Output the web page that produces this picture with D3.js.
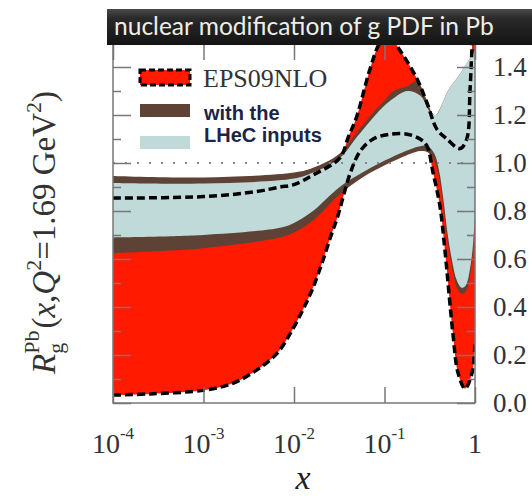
<!DOCTYPE html>
<html>
<head>
<meta charset="utf-8">
<script src="https://cdn.jsdelivr.net/npm/d3@7"></script>
<style>
  html, body { margin: 0; padding: 0; background: #fff; }
  svg { display: block; }
</style>
</head>
<body>
<svg id="chart" width="532" height="496"></svg>
<script>
// ---------------- data (x, R) ----------------
const eps09Upper = [[1e-4,0.854],[1e-3,0.86],[0.0037,0.88],[0.007,0.90],[0.01,0.91],[0.0162,0.95],[0.032,1.02],[0.04,1.11],[0.049,1.19],[0.069,1.39],[0.089,1.50],[0.112,1.53],[0.148,1.47],[0.229,1.35],[0.295,1.25],[0.38,1.14],[0.49,1.10],[0.68,1.06],[0.81,1.10],[0.88,1.30],[0.933,1.51],[1,1.75]];
const eps09Lower = [[1e-4,0.033],[2.57e-4,0.038],[1.05e-3,0.054],[2.14e-3,0.083],[3.9e-3,0.138],[6.5e-3,0.207],[9.1e-3,0.29],[0.0126,0.39],[0.0162,0.48],[0.0209,0.595],[0.0263,0.71],[0.030,0.77],[0.035,0.86],[0.042,0.96],[0.054,1.05],[0.075,1.10],[0.115,1.12],[0.178,1.12],[0.247,1.10],[0.295,1.07],[0.344,0.96],[0.41,0.82],[0.467,0.63],[0.57,0.29],[0.65,0.125],[0.776,0.06],[0.927,0.125],[1,0.25]];
const brownUpper = [[1e-4,0.946],[1e-3,0.94],[0.01,0.96],[0.0162,0.98],[0.032,1.04],[0.05,1.13],[0.075,1.21],[0.1,1.26],[0.126,1.30],[0.178,1.32],[0.229,1.34],[0.295,1.26],[0.34,1.205],[0.37,1.20],[0.45,1.26],[0.5,1.30],[0.68,1.37],[1,1.47]];
const brownLower = [[1e-4,0.625],[1e-3,0.645],[0.007,0.69],[0.01,0.71],[0.0162,0.76],[0.032,0.87],[0.057,0.94],[0.089,0.98],[0.148,1.02],[0.247,1.05],[0.3,1.045],[0.355,1.01],[0.4,0.94],[0.447,0.82],[0.5,0.67],[0.56,0.56],[0.63,0.48],[0.71,0.455],[0.79,0.465],[0.89,0.54],[0.96,0.65],[1,0.77]];
const blueUpper = [[1e-4,0.917],[1e-3,0.915],[0.01,0.935],[0.0162,0.96],[0.032,1.02],[0.05,1.11],[0.075,1.19],[0.1,1.24],[0.126,1.27],[0.178,1.30],[0.25,1.28],[0.316,1.215],[0.37,1.20],[0.45,1.26],[0.5,1.30],[0.68,1.37],[1,1.47]];
const blueLower = [[1e-4,0.69],[1e-3,0.70],[0.007,0.73],[0.01,0.75],[0.0162,0.80],[0.032,0.90],[0.057,0.96],[0.089,1.0],[0.148,1.04],[0.247,1.07],[0.3,1.07],[0.355,1.04],[0.4,0.97],[0.447,0.85],[0.5,0.70],[0.56,0.59],[0.63,0.51],[0.71,0.48],[0.79,0.49],[0.89,0.57],[0.96,0.68],[1,0.80]];

const xTicks = [1e-4,1e-3,1e-2,1e-1,1];
const xTickLabels = [["10","-4"],["10","-3"],["10","-2"],["10","-1"],["1",""]];
const yMajor = [0,0.2,0.4,0.6,0.8,1.0,1.2,1.4];
const yMinor = [0.1,0.3,0.5,0.7,0.9,1.1,1.3,1.5];
const titleText = "nuclear modification of g PDF in Pb";
const legendItems = ["EPS09NLO","with the","LHeC inputs"];

// ---------------- setup ----------------
const svg = d3.select("#chart");
const x = d3.scaleLog().domain([1e-4,1]).range([113,475]);
const y = d3.scaleLinear().domain([0,1.5]).range([403,43]);
const [X0,X1] = x.range(), [Y0,Y1] = y.range();

const defs = svg.append("defs");
defs.append("clipPath").attr("id","plotclip").append("rect")
  .attr("x",X0).attr("y",Y1).attr("width",X1-X0).attr("height",Y0-Y1);
const grad = defs.append("linearGradient").attr("id","bar").attr("x1",0).attr("y1",0).attr("x2",0).attr("y2",1);
grad.append("stop").attr("offset","0%").attr("stop-color","#4a4a4a");
grad.append("stop").attr("offset","25%").attr("stop-color","#2a2a2a");
grad.append("stop").attr("offset","100%").attr("stop-color","#141414");

const line = d3.line().x(d=>x(d[0])).y(d=>y(d[1])).curve(d3.curveCatmullRom.alpha(0.5));
function band(up, lo){
  return line(up) + line(lo.slice().reverse()).replace(/^M/,"L") + "Z";
}

const plot = svg.append("g").attr("clip-path","url(#plotclip)");
plot.append("path").attr("d",band(eps09Upper,eps09Lower)).attr("fill","#ff1a00");
plot.append("path").attr("d",band(brownUpper,brownLower)).attr("fill","#5e4235");
plot.append("path").attr("d",band(blueUpper,blueLower)).attr("fill","#bfdad8");

// dotted line at 1
plot.append("line").attr("x1",X0).attr("x2",X1).attr("y1",y(1)).attr("y2",y(1))
  .attr("stroke","#888").attr("stroke-width",2).attr("stroke-dasharray","2,10");

// dashed curves
[eps09Upper,eps09Lower].forEach(d=>{
  plot.append("path").attr("d",line(d)).attr("fill","none")
    .attr("stroke","#000").attr("stroke-width",3.5).attr("stroke-dasharray","8,4");
});

// ---------------- axes ----------------
function styleAxis(g){ g.select(".domain").remove(); g.selectAll("line").attr("stroke","#777").attr("stroke-width",1.5); g.selectAll("text").remove(); }
svg.append("g").attr("transform",`translate(${X0},0)`).call(d3.axisRight(y).tickValues(yMajor).tickSize(18)).call(styleAxis);
svg.append("g").attr("transform",`translate(${X0},0)`).call(d3.axisRight(y).tickValues(yMinor).tickSize(8)).call(styleAxis);
svg.append("g").attr("transform",`translate(${X1},0)`).call(d3.axisLeft(y).tickValues(yMajor).tickSize(18)).call(styleAxis);
svg.append("g").attr("transform",`translate(${X1},0)`).call(d3.axisLeft(y).tickValues(yMinor).tickSize(8)).call(styleAxis);
svg.append("g").attr("transform",`translate(0,${Y0})`).call(d3.axisTop(x).tickValues(xTicks).tickSize(16)).call(styleAxis);
svg.append("g").attr("transform",`translate(0,${Y1})`).call(d3.axisBottom(x).tickValues(xTicks).tickSize(17)).call(styleAxis);

// frame
svg.append("rect").attr("x",X0).attr("y",Y1).attr("width",X1-X0).attr("height",Y0-Y1)
  .attr("fill","none").attr("stroke","#777").attr("stroke-width",1.5);

// right y labels
const yLab = svg.append("g").attr("transform",`translate(${X1},0)`)
  .call(d3.axisRight(y).tickValues(yMajor).tickSize(0).tickPadding(18).tickFormat(d3.format(".1f")));
yLab.select(".domain").remove();
yLab.selectAll("text").attr("font-family","Liberation Serif, serif").attr("font-size",27).attr("fill","#333");

// x labels
const xl = svg.append("g");
xTicks.forEach((t,i)=>{
  const tx = xl.append("text").attr("x",x(t)).attr("y",453).attr("text-anchor","middle")
    .attr("font-family","Liberation Serif, serif").attr("font-size",28).attr("fill","#333");
  tx.append("tspan").text(xTickLabels[i][0]);
  if (xTickLabels[i][1]) tx.append("tspan").attr("dy",-14).attr("font-size",17).text(xTickLabels[i][1]);
});

// x title
svg.append("text").attr("x",303).attr("y",489).attr("text-anchor","middle")
  .attr("font-family","Liberation Serif, serif").attr("font-style","italic").attr("font-size",34).attr("fill","#222").text("x");

// y title
const yt = svg.append("text").attr("transform","translate(55,374) rotate(-90)")
  .attr("font-family","Liberation Serif, serif").attr("font-size",33).attr("fill","#333");
yt.append("tspan").attr("font-style","italic").text("R");
yt.append("tspan").attr("font-size",22).attr("dy",8).text("g");
yt.append("tspan").attr("font-size",22).attr("dx",-11).attr("dy",-24).text("Pb");
yt.append("tspan").attr("dy",16).attr("dx",2).text("(");
yt.append("tspan").attr("font-style","italic").text("x");
yt.append("tspan").text(",");
yt.append("tspan").attr("font-style","italic").text("Q");
yt.append("tspan").attr("font-size",22).attr("dy",-14).text("2");
yt.append("tspan").attr("dy",14).text("=1.69 GeV");
yt.append("tspan").attr("font-size",22).attr("dy",-14).text("2");
yt.append("tspan").attr("dy",14).text(")");

// ---------------- legend ----------------
const lg = svg.append("g");
lg.append("rect").attr("x",140).attr("y",70).attr("width",50).attr("height",15)
  .attr("fill","#ff1a00").attr("stroke","#000").attr("stroke-width",3).attr("stroke-dasharray","6,3");
lg.append("rect").attr("x",140).attr("y",104).attr("width",50).attr("height",13).attr("fill","#5e4235");
lg.append("rect").attr("x",140).attr("y",136).attr("width",50).attr("height",13).attr("fill","#bfdad8");
lg.append("text").attr("x",203).attr("y",87).attr("font-family","Liberation Serif, serif").attr("font-size",26).attr("fill","#333").text(legendItems[0]);
lg.append("text").attr("x",204).attr("y",120).attr("font-family","Liberation Sans, Arial, sans-serif").attr("font-weight","bold").attr("font-size",20).attr("fill","#1c2448").text(legendItems[1]);
lg.append("text").attr("x",204).attr("y",142).attr("font-family","Liberation Sans, Arial, sans-serif").attr("font-weight","bold").attr("font-size",20).attr("fill","#1c2448").text(legendItems[2]);

// ---------------- title bar ----------------
svg.append("rect").attr("x",107).attr("y",9).attr("width",425).attr("height",36).attr("fill","url(#bar)");
const tt = svg.append("text").attr("x",114).attr("y",35).attr("font-family","Lato, 'Open Sans', sans-serif")
  .attr("font-size",24).attr("fill","#eeeee6").text(titleText);
const tw = tt.node().getComputedTextLength();
tt.attr("font-size", 24*380/tw);
</script>
</body>
</html>
